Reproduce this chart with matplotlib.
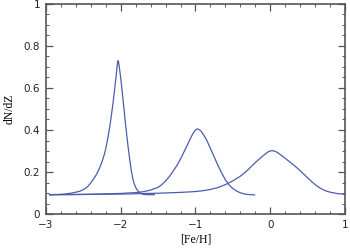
import matplotlib
matplotlib.use("Agg")
import matplotlib.pyplot as plt
from matplotlib.ticker import MultipleLocator

# values
feh_1 = [-2.95, -2.85, -2.75, -2.65, -2.55, -2.5, -2.46, -2.44, -2.42, -2.40, -2.38, -2.36,
         -2.34, -2.32, -2.30, -2.28, -2.26, -2.24, -2.22, -2.20, -2.18, -2.16, -2.14, -2.12,
         -2.10, -2.08, -2.06, -2.05, -2.04, -2.035, -2.03, -2.02, -2.00, -1.98, -1.96, -1.94,
         -1.92, -1.90, -1.88, -1.86, -1.84, -1.82, -1.80, -1.78, -1.76, -1.74, -1.72, -1.70,
         -1.65, -1.55]
dndz_1 = [0.092, 0.093, 0.095, 0.100, 0.108, 0.116, 0.125, 0.131, 0.139, 0.148, 0.158, 0.168,
          0.179, 0.191, 0.205, 0.221, 0.239, 0.259, 0.282, 0.310, 0.345, 0.385, 0.430, 0.480,
          0.535, 0.595, 0.660, 0.695, 0.725, 0.730, 0.726, 0.705, 0.650, 0.585, 0.515, 0.445,
          0.380, 0.318, 0.262, 0.212, 0.172, 0.145, 0.127, 0.115, 0.107, 0.101, 0.097, 0.094,
          0.092, 0.092]

feh_2 = [-2.95, -2.6, -2.3, -2.0, -1.8, -1.7, -1.6, -1.5, -1.45, -1.4, -1.35, -1.3,
         -1.25, -1.2, -1.15, -1.1, -1.06, -1.03, -1.0, -0.98, -0.96, -0.93, -0.9, -0.85,
         -0.8, -0.75, -0.7, -0.65, -0.6, -0.55, -0.5, -0.45, -0.4, -0.35, -0.3, -0.21]
dndz_2 = [0.092, 0.093, 0.095, 0.098, 0.102, 0.106, 0.114, 0.127, 0.140, 0.157, 0.178, 0.203,
          0.230, 0.262, 0.298, 0.335, 0.365, 0.385, 0.400, 0.405, 0.404, 0.396, 0.382, 0.352,
          0.312, 0.272, 0.232, 0.195, 0.163, 0.138, 0.121, 0.109, 0.101, 0.096, 0.093, 0.091]

feh_3 = [-2.95, -2.5, -2.0, -1.5, -1.2, -1.0, -0.9, -0.8, -0.7, -0.6, -0.5, -0.4,
         -0.3, -0.2, -0.12, -0.06, -0.02, 0.02, 0.06, 0.1, 0.15, 0.2, 0.25, 0.3,
         0.35, 0.4, 0.5, 0.55, 0.6, 0.65, 0.7, 0.75, 0.8, 0.9, 1.0]
dndz_3 = [0.092, 0.093, 0.095, 0.099, 0.103, 0.107, 0.111, 0.117, 0.126, 0.140, 0.158, 0.180,
          0.210, 0.245, 0.270, 0.288, 0.298, 0.302, 0.299, 0.292, 0.279, 0.265, 0.251, 0.237,
          0.222, 0.206, 0.172, 0.155, 0.140, 0.127, 0.117, 0.109, 0.104, 0.097, 0.094]

line_color = "#4c5cac"
frame_color = "#555555"

fig = plt.figure(figsize=(3.5, 2.48), dpi=100)
ax = fig.add_axes([0.131, 0.137, 0.855, 0.847])

for x, y in [(feh_1, dndz_1), (feh_2, dndz_2), (feh_3, dndz_3)]:
    ax.plot(x, y, color=line_color, lw=0.9, solid_joinstyle="round")

ax.set_xlim(-3, 1)
ax.set_ylim(0, 1)
ax.xaxis.set_major_locator(MultipleLocator(1))
ax.xaxis.set_minor_locator(MultipleLocator(0.2))
ax.yaxis.set_major_locator(MultipleLocator(0.2))
ax.yaxis.set_minor_locator(MultipleLocator(0.05))
ax.yaxis.set_major_formatter(plt.FuncFormatter(lambda v, p: f"{v:g}"))
ax.xaxis.set_major_formatter(plt.FuncFormatter(lambda v, p: f"{v:g}".replace("-", "\u2212")))

for s in ax.spines.values():
    s.set_color(frame_color)
    s.set_linewidth(1.2)
ax.tick_params(which="both", direction="in", top=True, right=True, color=frame_color,
               labelsize=7.5, labelcolor="#222222")
ax.tick_params(which="major", length=5, width=0.9, pad=4)
ax.tick_params(which="minor", length=2.5, width=0.7)

ax.set_xlabel("[Fe/H]", family="Liberation Serif", fontsize=8.5, labelpad=3)
ax.set_ylabel("dN/dZ", family="Liberation Serif", fontsize=8.5, labelpad=6)

fig.savefig("out.png", dpi=100)
